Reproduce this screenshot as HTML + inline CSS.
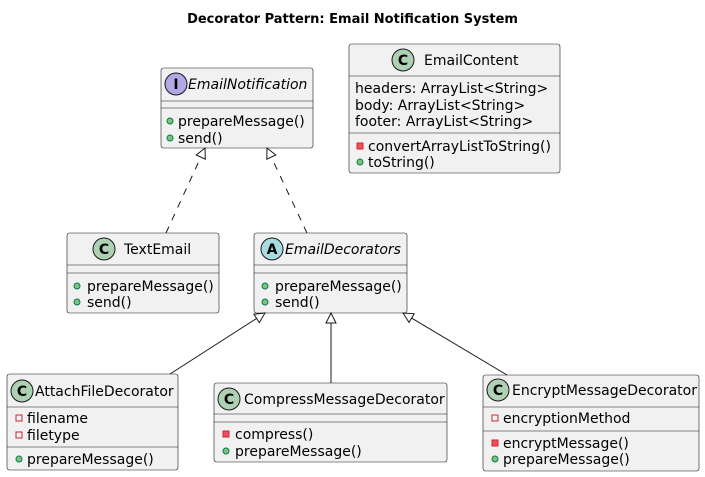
<!DOCTYPE html>
<html><head><meta charset="utf-8"><style>
html,body{margin:0;padding:0;background:#fff;}
svg{display:block;font-family:"DejaVu Sans","Liberation Sans",sans-serif;}
.b{fill:#F1F1F1;stroke:#181818;stroke-width:0.6;}
.t{font-size:14px;fill:#000;}
.l{stroke:#181818;stroke-width:0.6;}
.pub{fill:#84BE84;stroke:#038048;stroke-width:1;}
.privf{fill:none;stroke:#C82930;stroke-width:1;}
.privm{fill:#F24D5C;stroke:#C82930;stroke-width:1;}
.e{stroke:#181818;stroke-width:1;fill:none;}
.ah{fill:#fff;stroke:#181818;stroke-width:1;}
</style></head><body>
<svg width="705" height="477" viewBox="0 0 705 477" xmlns="http://www.w3.org/2000/svg">
<text x="352.5" y="23" text-anchor="middle" font-size="13" font-weight="bold">Decorator Pattern: Email Notification System</text>

<!-- EmailNotification -->
<rect class="b" x="161" y="68" width="152" height="80" rx="2.5"/>
<circle cx="176" cy="84" r="11" fill="#B4A7E5" stroke="#181818" stroke-width="1"/>
<text x="176" y="89" text-anchor="middle" font-size="14" font-weight="bold">I</text>
<text class="t" x="188" y="89" font-style="italic">EmailNotification</text>
<line class="l" x1="161" y1="101" x2="313" y2="101"/><line class="l" x1="161" y1="108" x2="313" y2="108"/>
<circle class="pub" cx="170" cy="121" r="3"/><text class="t" x="178" y="126">prepareMessage()</text>
<circle class="pub" cx="170" cy="138" r="3"/><text class="t" x="178" y="143">send()</text>

<!-- EmailContent -->
<rect class="b" x="349" y="44" width="211" height="129" rx="2.5"/>
<circle cx="403" cy="60" r="11" fill="#ADD1B2" stroke="#181818" stroke-width="1"/>
<text x="403" y="65" text-anchor="middle" font-size="14" font-weight="bold">C</text>
<text class="t" x="424" y="65">EmailContent</text>
<line class="l" x1="349" y1="76" x2="560" y2="76"/>
<text class="t" x="355" y="93">headers: ArrayList&lt;String&gt;</text>
<text class="t" x="355" y="110">body: ArrayList&lt;String&gt;</text>
<text class="t" x="355" y="126">footer: ArrayList&lt;String&gt;</text>
<line class="l" x1="349" y1="133" x2="560" y2="133"/>
<rect class="privm" x="357" y="143" width="6" height="6"/><text class="t" x="368" y="151">convertArrayListToString()</text>
<circle class="pub" cx="360" cy="162" r="3"/><text class="t" x="368" y="167">toString()</text>

<!-- TextEmail -->
<rect class="b" x="67" y="233" width="152" height="80" rx="2.5"/>
<circle cx="104" cy="249" r="11" fill="#ADD1B2" stroke="#181818" stroke-width="1"/>
<text x="104" y="254" text-anchor="middle" font-size="14" font-weight="bold">C</text>
<text class="t" x="124" y="254">TextEmail</text>
<line class="l" x1="67" y1="265" x2="219" y2="265"/><line class="l" x1="67" y1="273" x2="219" y2="273"/>
<circle class="pub" cx="77" cy="286" r="3"/><text class="t" x="87" y="291">prepareMessage()</text>
<circle class="pub" cx="77" cy="302" r="3"/><text class="t" x="87" y="307">send()</text>

<!-- EmailDecorators -->
<rect class="b" x="254" y="233" width="153" height="80" rx="2.5"/>
<circle cx="272" cy="249" r="11" fill="#A9DCDF" stroke="#181818" stroke-width="1"/>
<text x="272" y="254" text-anchor="middle" font-size="14" font-weight="bold">A</text>
<text class="t" x="285" y="254" font-style="italic">EmailDecorators</text>
<line class="l" x1="254" y1="265" x2="407" y2="265"/><line class="l" x1="254" y1="273" x2="407" y2="273"/>
<circle class="pub" cx="265" cy="286" r="3"/><text class="t" x="275" y="291">prepareMessage()</text>
<circle class="pub" cx="265" cy="302" r="3"/><text class="t" x="275" y="307">send()</text>

<!-- AttachFileDecorator -->
<rect class="b" x="7" y="374" width="171" height="96" rx="2.5"/>
<circle cx="22" cy="391" r="11" fill="#ADD1B2" stroke="#181818" stroke-width="1"/>
<text x="22" y="396" text-anchor="middle" font-size="14" font-weight="bold">C</text>
<text class="t" x="35" y="396">AttachFileDecorator</text>
<line class="l" x1="7" y1="407" x2="178" y2="407"/>
<rect class="privf" x="16" y="415" width="6" height="6"/><text class="t" x="27" y="423">filename</text>
<rect class="privf" x="16" y="432" width="6" height="6"/><text class="t" x="27" y="440">filetype</text>
<line class="l" x1="7" y1="447" x2="178" y2="447"/>
<circle class="pub" cx="19" cy="459" r="3"/><text class="t" x="27" y="464">prepareMessage()</text>

<!-- CompressMessageDecorator -->
<rect class="b" x="214" y="383" width="233" height="79" rx="2.5"/>
<circle cx="229" cy="399" r="11" fill="#ADD1B2" stroke="#181818" stroke-width="1"/>
<text x="229" y="404" text-anchor="middle" font-size="14" font-weight="bold">C</text>
<text class="t" x="244" y="404">CompressMessageDecorator</text>
<line class="l" x1="214" y1="414" x2="447" y2="414"/><line class="l" x1="214" y1="422" x2="447" y2="422"/>
<rect class="privm" x="223" y="431" width="6" height="6"/><text class="t" x="235" y="439">compress()</text>
<circle class="pub" cx="226" cy="451" r="3"/><text class="t" x="235" y="456">prepareMessage()</text>

<!-- EncryptMessageDecorator -->
<rect class="b" x="483" y="375" width="216" height="96" rx="2.5"/>
<circle cx="498" cy="390" r="11" fill="#ADD1B2" stroke="#181818" stroke-width="1"/>
<text x="498" y="395" text-anchor="middle" font-size="14" font-weight="bold">C</text>
<text class="t" x="512" y="395">EncryptMessageDecorator</text>
<line class="l" x1="483" y1="407" x2="699" y2="407"/>
<rect class="privf" x="492" y="415" width="6" height="6"/><text class="t" x="503" y="423">encryptionMethod</text>
<line class="l" x1="483" y1="431" x2="699" y2="431"/>
<rect class="privm" x="492" y="440" width="6" height="6"/><text class="t" x="503" y="448">encryptMessage()</text>
<circle class="pub" cx="495" cy="459" r="3"/><text class="t" x="503" y="464">prepareMessage()</text>

<!-- edges -->
<line class="e" x1="166" y1="233" x2="200.8" y2="157.1" stroke-dasharray="7,7"/>
<polygon class="ah" points="205,148 205.3,159.2 196.3,155"/>
<line class="e" x1="307" y1="233" x2="271.3" y2="157.1" stroke-dasharray="7,7"/>
<polygon class="ah" points="267,148 275.8,155 266.8,159.2"/>
<line class="e" x1="170" y1="374" x2="256.6" y2="318.4"/>
<polygon class="ah" points="265,313 259.3,322.6 253.9,314.2"/>
<line class="e" x1="331" y1="383" x2="331" y2="323"/>
<polygon class="ah" points="331,313 326,323 336,323"/>
<line class="e" x1="507" y1="375" x2="411.6" y2="318.1"/>
<polygon class="ah" points="403,313 414.2,313.8 409,322.4"/>
</svg>
</body></html>
